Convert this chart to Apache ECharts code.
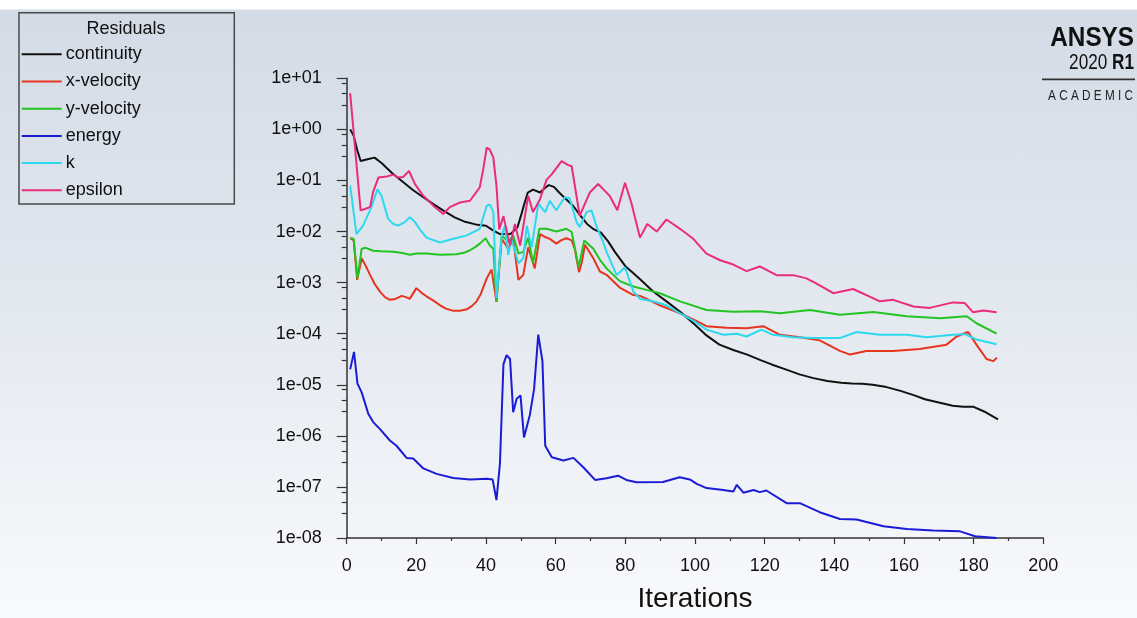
<!DOCTYPE html>
<html>
<head>
<meta charset="utf-8">
<script src="https://cdn.jsdelivr.net/npm/echarts@6/dist/echarts.min.js"></script>
<style>
html,body{margin:0;padding:0;}
#chart{width:1137px;height:618px;background:linear-gradient(to bottom,#ffffff 0px,#ffffff 9px,#d3dbe6 10px,#e3e8ef 300px,#f9fafc 618px);}
</style>
</head>
<body>
<div id="chart"></div>
<script>
// ---------- data ----------
const seriesNames = ['continuity', 'x-velocity', 'y-velocity', 'energy', 'k', 'epsilon'];
const xTicks = [0, 20, 40, 60, 80, 100, 120, 140, 160, 180, 200];
const yDecades = [-8, -7, -6, -5, -4, -3, -2, -1, 0, 1];

const continuityIter = [1,2,3,4,6,8,10,13,16,19,22,25,28,31,34,37,40,42,44,47,49,50,51,52,53.5,55.5,57,58,59.5,61,63,65,67,69,71,73,75,77,80,82,84,88,92,96,100,103,107,111,115,119,122,126,130,134,138,142,145,148,151,155,159,163,166,170,174,177,180,183,187];
const continuityVal = [1.0,0.75,0.4,0.24,0.26,0.28,0.22,0.14,0.095,0.065,0.047,0.034,0.025,0.019,0.0155,0.0138,0.013,0.0105,0.0089,0.0089,0.012,0.02,0.035,0.058,0.066,0.058,0.072,0.081,0.075,0.058,0.043,0.032,0.021,0.0141,0.011,0.0095,0.0065,0.004,0.0021,0.0016,0.0012,6.7e-4,4.2e-4,2.6e-4,1.5e-4,9.6e-5,6.1e-5,4.8e-5,3.9e-5,3.0e-5,2.5e-5,2.0e-5,1.6e-5,1.35e-5,1.18e-5,1.1e-5,1.06e-5,1.05e-5,1.0e-5,9.0e-6,7.6e-6,6.2e-6,5.2e-6,4.5e-6,3.9e-6,3.7e-6,3.7e-6,3.0e-6,2.1e-6];

const xVelIter = [1,2,3,4.3,5.5,6.7,8,9.6,11,12.4,14,15.8,17,18.1,20,21.5,22.9,25,26.8,28.5,30.6,32.5,34.5,36,37.3,38.5,40.2,41.6,43,44.5,46.4,47.8,49.3,50.7,52.1,54,55.5,57,58.3,60.2,61.5,63.1,64.6,65.5,66.7,67.5,68.4,70.8,72.7,74.6,78.4,82.3,84.2,86.1,89.9,95.7,99.5,103.3,109.1,114.8,119.6,124.4,130.1,135.8,141.6,144.5,149.2,156.9,164.5,172.2,175.1,178.4,180.8,183.7,185.6,186.7];
const xVelVal = [0.0074,0.0068,0.00113,0.003,0.0021,0.00142,0.00095,6.6e-4,5.2e-4,4.6e-4,4.8e-4,5.5e-4,5.2e-4,4.8e-4,7.8e-4,6.3e-4,5.4e-4,4.4e-4,3.6e-4,3.1e-4,2.8e-4,2.8e-4,3.0e-4,3.5e-4,4.3e-4,6.0e-4,0.00121,0.0018,4.2e-4,0.0072,0.0046,0.0072,0.00113,0.00142,0.0049,0.0019,0.0089,0.0078,0.0072,0.0058,0.0067,0.0074,0.0067,0.0045,0.0016,0.0025,0.0055,0.003,0.00165,0.00142,8.0e-4,5.7e-4,5.5e-4,4.8e-4,3.6e-4,2.5e-4,1.9e-4,1.4e-4,1.3e-4,1.28e-4,1.4e-4,9.5e-5,8.5e-5,7.4e-5,4.6e-5,3.9e-5,4.6e-5,4.6e-5,5.0e-5,6.1e-5,8.8e-5,1.08e-4,6.1e-5,3.2e-5,2.9e-5,3.4e-5];

const yVelIter = [1,2,3.1,4.3,5.5,7.6,10,13.4,16,18.1,20,22.9,26.8,31.5,34,35.4,37,38.2,39.9,41.1,42.1,43,44.5,46.4,47.8,49.3,50.7,52.1,53.5,55.3,57.4,60.2,63.1,64.6,66.6,68.2,70.8,72.7,74.6,78.4,82.3,86.1,89.9,95.7,103.3,111,118.6,124.4,133,141.6,151.2,160.8,170.4,178,180.8,186.6];
const yVelVal = [0.0074,0.0072,0.00121,0.0046,0.0048,0.0042,0.0041,0.004,0.0038,0.0035,0.0037,0.0037,0.0035,0.0036,0.0039,0.0043,0.005,0.0058,0.0074,0.0053,0.0046,4.3e-4,0.0084,0.0063,0.0084,0.0037,0.004,0.0076,0.0024,0.0113,0.0113,0.01,0.0113,0.0098,0.002,0.0067,0.0046,0.0028,0.0019,0.00107,8.4e-4,7.2e-4,6.2e-4,4.3e-4,2.9e-4,2.7e-4,2.75e-4,2.5e-4,2.9e-4,2.35e-4,2.65e-4,2.2e-4,2.0e-4,2.2e-4,1.6e-4,1.0e-4];

const energyIter = [1,2.1,3.1,4.3,6.2,7.6,9.5,12.4,14.3,17.2,19.1,22,25.8,30.6,35.4,40.2,41.9,43,44,45,45.9,46.9,47.8,48.8,49.9,50.9,52.6,53.8,55,56.2,57,58.9,62.2,65.1,68,71.3,74.6,77.9,80.3,83.2,90.8,95.6,98.5,100.5,103.3,108.1,111,112,113.9,116.8,118.6,120.5,126.3,130.1,135.8,141.6,146.4,154.1,160.8,168.4,176.1,180.4,186.6];
const energyVal = [2.0e-5,4.4e-5,1.05e-5,7.1e-6,2.7e-6,1.86e-6,1.37e-6,8.1e-7,6.4e-7,3.7e-7,3.6e-7,2.3e-7,1.8e-7,1.5e-7,1.4e-7,1.45e-7,1.4e-7,5.5e-8,2.9e-7,2.5e-5,3.8e-5,3.2e-5,2.9e-6,5.3e-6,6.2e-6,9.3e-7,2.6e-6,8.2e-6,9.6e-5,2.9e-5,6.4e-7,3.8e-7,3.3e-7,3.7e-7,2.4e-7,1.37e-7,1.48e-7,1.66e-7,1.37e-7,1.24e-7,1.25e-7,1.55e-7,1.4e-7,1.15e-7,9.5e-8,8.7e-8,8.1e-8,1.1e-7,7.7e-8,8.7e-8,7.9e-8,8.5e-8,4.8e-8,4.8e-8,3.2e-8,2.35e-8,2.3e-8,1.7e-8,1.5e-8,1.41e-8,1.35e-8,1.08e-8,1.0e-8];

const kIter = [1,2.8,4.7,7.1,8.8,10,11.9,13.4,14.8,16.7,18.1,19.6,21,22.9,26.8,30.6,34.5,38.2,40.2,41.1,42.1,43,44.5,45.4,46.4,47.3,49.3,50.7,51.7,53.1,55,57,58.3,60.2,62.6,64,66,66.9,68.9,70.3,71.8,73.6,74.6,77.5,79.9,82.3,84.2,88,91.8,95.7,99.5,103.3,108.1,112,114.8,119.1,122.4,128.2,134,141.6,146.4,153.1,160.8,166.5,174.1,177.5,180.8,186.6];
const kVal = [0.079,0.0089,0.0131,0.03,0.067,0.05,0.0177,0.014,0.0131,0.0153,0.019,0.0153,0.011,0.0076,0.0061,0.0072,0.0084,0.0113,0.032,0.034,0.024,5.0e-4,0.0084,0.013,0.0035,0.0072,0.0024,0.003,0.013,0.0049,0.035,0.024,0.04,0.026,0.047,0.045,0.0153,0.0122,0.024,0.026,0.0122,0.0063,0.004,0.0014,0.002,6.7e-4,4.8e-4,4.3e-4,3.6e-4,2.5e-4,1.8e-4,1.2e-4,9.5e-5,1.0e-4,8.8e-5,1.2e-4,9.5e-5,8.5e-5,8.2e-5,8.2e-5,1.08e-4,9.5e-5,9.5e-5,8.5e-5,9.5e-5,9.8e-5,7.7e-5,6.2e-5];

const epsilonIter = [1,4,5.2,6.7,7.6,9.1,11.5,13.4,14.8,16.2,17.9,19.6,22,24.9,27.7,29.6,32.5,35.4,38.2,39.2,40.2,41.1,42.1,43,43.8,45,46.9,48.3,49.8,52.1,53.5,55.5,57.4,58.8,61.7,63.6,64.6,66.9,69.8,72.2,75.5,77.7,79.9,81.7,84.2,86.3,89,91.8,95.7,99.5,103.3,107.2,111,114.8,118.6,123.4,128.2,132,134.9,139.7,145.4,153.1,156.9,162.7,167.4,174.1,177.4,179.8,182.8,186.6];
const epsilonVal = [5.1,0.026,0.0277,0.03,0.06,0.114,0.12,0.13,0.114,0.117,0.153,0.085,0.05,0.032,0.022,0.03,0.037,0.04,0.073,0.166,0.44,0.4,0.28,0.079,0.011,0.02,0.0053,0.014,0.0053,0.05,0.024,0.043,0.104,0.13,0.24,0.2,0.19,0.0204,0.058,0.085,0.05,0.026,0.09,0.037,0.0076,0.0141,0.01,0.0172,0.0113,0.0072,0.0037,0.00274,0.00226,0.00168,0.00207,0.0014,0.0014,0.00121,0.00096,6.2e-4,7.5e-4,4.3e-4,4.6e-4,3.4e-4,3.2e-4,4.1e-4,4.0e-4,2.64e-4,2.85e-4,2.64e-4];

// ---------- build ----------
const FONT = '"Liberation Sans", Arial, sans-serif';
const colors = ['#111111', '#e6341f', '#22c422', '#1b1bd6', '#2cd9ee', '#e92c7b'];
const iters = [continuityIter, xVelIter, yVelIter, energyIter, kIter, epsilonIter];
const vals = [continuityVal, xVelVal, yVelVal, energyVal, kVal, epsilonVal];

const zip = (a, b) => a.map((x, i) => [x, b[i]]);
const minorTickValues = [];
yDecades.slice(0, -1).forEach(e => [3, 5, 8].forEach(m => minorTickValues.push(m * Math.pow(10, e))));
const majorTickValues = yDecades.map(e => Math.pow(10, e));

const fmtExp = v => {
  const e = Math.round(Math.log10(v));
  return '1e' + (e >= 0 ? '+' : '-') + String(Math.abs(e)).padStart(2, '0');
};

const chart = echarts.init(document.getElementById('chart'), null, {renderer: 'canvas'});
const option = {
  animation: false,
  backgroundColor: 'transparent',
  color: colors,
  grid: {left: 346.7, right: 93.7, top: 78.3, bottom: 76.3},
  legend: {
    orient: 'vertical',
    left: 21.7,
    top: 44.3,
    itemWidth: 40,
    itemHeight: 2,
    itemGap: 7.2,
    icon: 'rect',
    padding: 0,
    data: seriesNames,
    textStyle: {fontSize: 18, fontFamily: FONT, color: '#111', lineHeight: 20, padding: [0, 0, 0, -1]}
  },
  xAxis: {
    type: 'value',
    min: xTicks[0],
    max: xTicks[xTicks.length - 1],
    interval: 20,
    name: 'Iterations',
    nameLocation: 'middle',
    nameGap: 47,
    nameTextStyle: {fontSize: 28, fontFamily: FONT, color: '#111'},
    axisLine: {show: true, onZero: false, lineStyle: {color: '#333', width: 1.5}},
    axisTick: {show: true, length: 6, lineStyle: {color: '#333', width: 1.2}},
    minorTick: {show: true, splitNumber: 2, length: 3, lineStyle: {color: '#333', width: 1.2}},
    axisLabel: {fontSize: 18, fontFamily: FONT, color: '#111', margin: 19},
    splitLine: {show: false}
  },
  yAxis: [{
    type: 'log',
    logBase: 10,
    min: majorTickValues[0],
    max: majorTickValues[majorTickValues.length - 1],
    interval: 1,
    axisLine: {show: true, onZero: false, lineStyle: {color: '#333', width: 1.5}},
    axisTick: {show: true, length: 10, customValues: majorTickValues, lineStyle: {color: '#333', width: 1.2}},
    axisLabel: {fontSize: 18, fontFamily: FONT, color: '#111', margin: 25, formatter: fmtExp, customValues: majorTickValues},
    splitLine: {show: false}
  }, {
    type: 'log',
    logBase: 10,
    position: 'left',
    min: majorTickValues[0],
    max: majorTickValues[majorTickValues.length - 1],
    axisLine: {show: false},
    axisLabel: {show: false},
    splitLine: {show: false},
    axisTick: {show: true, length: 5, customValues: minorTickValues, lineStyle: {color: '#333', width: 1.2}}
  }],
  series: seriesNames.map((name, i) => ({
    name: name,
    type: 'line',
    yAxisIndex: 0,
    showSymbol: false,
    symbol: 'none',
    smooth: false,
    lineStyle: {width: 2, color: colors[i]},
    itemStyle: {color: colors[i]},
    data: zip(iters[i], vals[i])
  })),
  graphic: [
    {type: 'rect', shape: {x: 19, y: 12.7, width: 215.3, height: 191.3},
     style: {fill: 'none', stroke: '#4a4a4a', lineWidth: 1.5}},
    {type: 'text', x: 126, y: 29, style: {text: 'Residuals', font: '18px ' + FONT, fill: '#111', align: 'center', verticalAlign: 'middle'}},
    {type: 'text', x: 1134, y: 39, scaleX: 0.9, style: {text: 'ANSYS', font: 'bold 27px ' + FONT, fill: '#111', align: 'right', verticalAlign: 'middle'}},
    {type: 'text', x: 1134, y: 63, scaleX: 0.78,
     style: {text: '{a|2020 }{b|R1}', align: 'right', verticalAlign: 'middle', fill: '#111',
             rich: {a: {font: '22px ' + FONT, fill: '#111'}, b: {font: 'bold 22px ' + FONT, fill: '#111'}}}},
    {type: 'line', shape: {x1: 1042, y1: 79.3, x2: 1135, y2: 79.3}, style: {stroke: '#333', lineWidth: 1.8}},
    {type: 'text', x: 1133, y: 96.5, scaleX: 0.84, style: {text: 'A C A D E M I C', font: '14px ' + FONT, fill: '#222', align: 'right', verticalAlign: 'middle'}}
  ]
};
chart.setOption(option);
</script>
</body>
</html>
